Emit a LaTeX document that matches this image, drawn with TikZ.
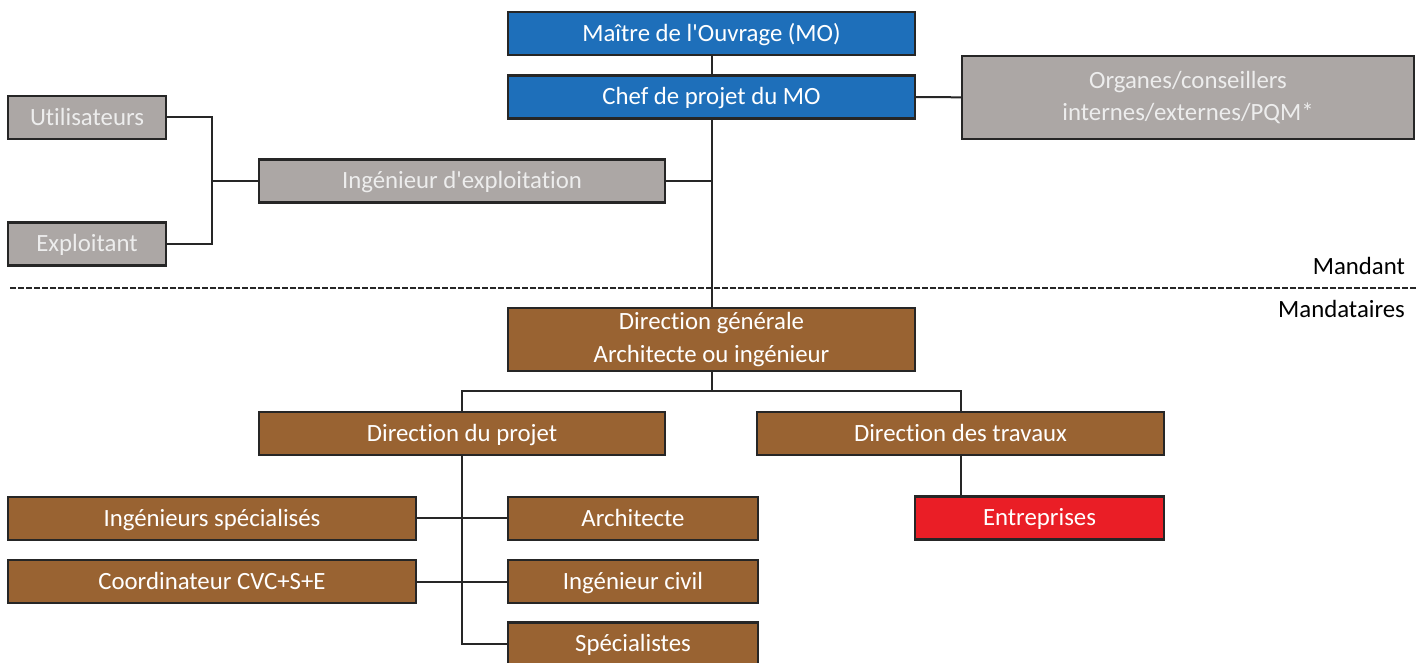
\documentclass[tikz,border=0pt]{standalone}
\usepackage{fontspec}
\setmainfont{Carlito}[Ligatures={TeXOff,NoCommon}]
\usetikzlibrary{positioning}

\definecolor{moblue}{RGB}{30,111,186}
\definecolor{orggrey}{RGB}{172,167,165}
\definecolor{mandbrown}{RGB}{153,99,50}
\definecolor{firmred}{RGB}{234,30,38}

\begin{document}
\begin{tikzpicture}[
  x=0.5pt,y=-0.5pt,
  font=\fontsize{12.4}{16.2}\selectfont,
  org box/.style={
    draw=black!85,
    line width=1.2pt,
    text=white,
    align=center,
    inner sep=0pt,
    outer sep=0pt,
    minimum height=21.5pt
  },
  one line/.style={
    text height=9.4pt,
    text depth=1.6pt
  },
  owner box/.style={
    org box,
    one line,
    fill=moblue,
    minimum width=203.5pt
  },
  grey box/.style={
    org box,
    fill=orggrey,
    text=white!93!black
  },
  brown box/.style={
    org box,
    fill=mandbrown
  },
  firm box/.style={
    org box,
    one line,
    fill=firmred
  },
  link/.style={
    draw=black!85,
    line width=1pt
  }
]
\useasboundingbox (0,0) rectangle (1426,663);

% maitre de l'ouvrage
\node[owner box] (mo) at (711.5,33.5) {Ma\^{\i}tre de l'Ouvrage (MO)};
\node[owner box] (chef) at (711.5,97) {Chef de projet du MO};
\node[grey box,minimum width=226pt,minimum height=41.5pt] (organes) at (1188,97.5)
  {Organes/conseillers\\internes/externes/PQM*};

\node[grey box,one line,minimum width=79pt] (users) at (87,117.5) {Utilisateurs};
\node[grey box,one line,minimum width=79pt] (operator) at (87,244) {Exploitant};
\node[grey box,one line,minimum width=203pt] (openg) at (462,181) {Ing\'enieur d'exploitation};

\draw[link] (mo) -- (chef);
\draw[link] (chef) -- (organes);
\draw[link] (users.east) -| (212,181) |- (operator.east);
\draw[link] (openg.west) -- (212,181);
\draw[link] (openg.east) -- (711.5,181);

% mandant / mandataires
\draw[black!85,line width=1pt,dash pattern=on 3pt off 1pt] (10,288) -- (1416,288);
\node[anchor=east] (mandant) at (1412,266) {Mandant};
\node[anchor=east] (mandataires) at (1412,309) {Mandataires};

% direction
\node[brown box,minimum width=203.5pt,minimum height=31.5pt] (dg) at (711.5,339.5)
  {Direction g\'en\'erale\\Architecte ou ing\'enieur};
\node[brown box,one line,minimum width=203pt] (dproj) at (462,433.5) {Direction du projet};
\node[brown box,one line,minimum width=203.5pt] (dtrav) at (960.5,433.5) {Direction des travaux};
\node[firm box,minimum width=124.5pt] (firms) at (1039.5,518) {Entreprises};

\draw[link] (chef) -- (dg);
\draw[link] (dg.south) -- (711.5,391) -| (dproj.north);
\draw[link] (711.5,391) -| (dtrav.north);
\draw[link] (dtrav.south) -- (dtrav.south |- firms.north);

% direction du projet
\node[brown box,one line,minimum width=204pt] (speceng) at (212,518.5) {Ing\'enieurs sp\'ecialis\'es};
\node[brown box,one line,minimum width=204pt] (coord) at (212,581.5) {Coordinateur CVC+S+E};
\node[brown box,one line,minimum width=125pt] (archi) at (633,518.5) {Architecte};
\node[brown box,one line,minimum width=125pt] (civil) at (633,581.5) {Ing\'enieur civil};
\node[brown box,one line,minimum width=125pt] (spec) at (633,644) {Sp\'ecialistes};

\draw[link] (dproj.south) |- (spec.west);
\draw[link] (speceng) -- (archi);
\draw[link] (coord) -- (civil);

\end{tikzpicture}
\end{document}
